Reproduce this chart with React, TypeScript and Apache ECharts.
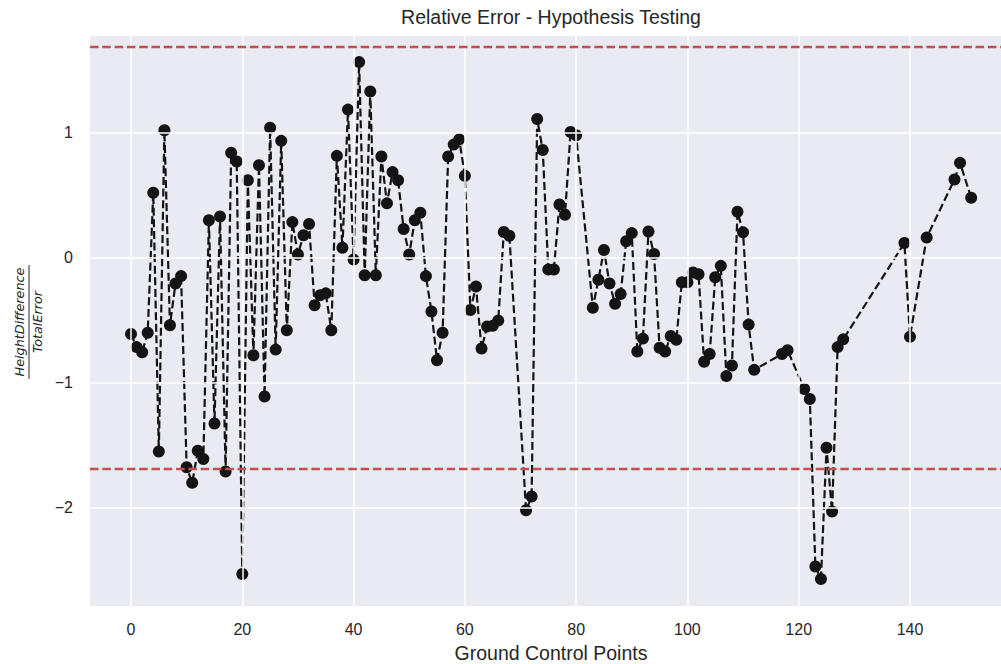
import React, { useEffect, useRef } from "react";
import * as echarts from "echarts";

// Ground control point indices (x) and their relative error values (y)
const pointIndex = [
  0, 1, 2, 3, 4, 5, 6, 7, 8, 9, 10, 11, 12, 13, 14, 15, 16, 17, 18, 19, 20,
  21, 22, 23, 24, 25, 26, 27, 28, 29, 30, 31, 32, 33, 34, 35, 36, 37, 38, 39,
  40, 41, 42, 43, 44, 45, 46, 47, 48, 49, 50, 51, 52, 53, 54, 55, 56, 57, 58,
  59, 60, 61, 62, 63, 64, 65, 66, 67, 68, 71, 72, 73, 74, 75, 76, 77, 78, 79,
  80, 83, 84, 85, 86, 87, 88, 89, 90, 91, 92, 93, 94, 95, 96, 97, 98, 99, 100,
  101, 102, 103, 104, 105, 106, 107, 108, 109, 110, 111, 112, 117, 118, 121,
  122, 123, 124, 125, 126, 127, 128, 139, 140, 143, 148, 149, 151,
];

const relError = [
  -0.61, -0.715, -0.756, -0.6, 0.52, -1.55, 1.02, -0.54, -0.206, -0.147,
  -1.676, -1.8, -1.544, -1.61, 0.3, -1.326, 0.33, -1.71, 0.84, 0.77, -2.53,
  0.62, -0.78, 0.74, -1.11, 1.04, -0.735, 0.935, -0.58, 0.285, 0.026, 0.18,
  0.27, -0.38, -0.3, -0.285, -0.58, 0.815, 0.08, 1.185, -0.015, 1.565, -0.14,
  1.33, -0.14, 0.81, 0.435, 0.685, 0.62, 0.23, 0.026, 0.3, 0.36, -0.147,
  -0.43, -0.82, -0.6, 0.81, 0.905, 0.947, 0.656, -0.418, -0.23, -0.726, -0.55,
  -0.545, -0.503, 0.206, 0.176, -2.02, -1.91, 1.11, 0.862, -0.094, -0.094,
  0.426, 0.344, 1.006, 0.98, -0.4, -0.176, 0.062, -0.206, -0.368, -0.29,
  0.132, 0.197, -0.75, -0.647, 0.21, 0.03, -0.72, -0.75, -0.626, -0.656,
  -0.197, -0.197, -0.118, -0.132, -0.832, -0.77, -0.156, -0.065, -0.947,
  -0.862, 0.368, 0.203, -0.535, -0.897, -0.77, -0.74, -1.05, -1.13, -2.47,
  -2.57, -1.52, -2.03, -0.715, -0.653, 0.118, -0.632, 0.162, 0.626, 0.759,
  0.48,
];

// Critical value of the test (drawn as upper and lower limits)
const criticalValue = 1.69;

const xTicks = [0, 20, 40, 60, 80, 100, 120, 140];
const yTicks = [-2, -1, 0, 1];

const TEXT_COLOR = "#262626";
const SANS = "'Liberation Sans', Arial, 'DejaVu Sans', sans-serif";
const MATH = "'DejaVu Sans', sans-serif";

const fmtTick = (v: number) => (v < 0 ? "\u2212" + Math.abs(v) : String(v));

export default function App() {
  const ref = useRef<HTMLDivElement>(null);

  useEffect(() => {
    if (!ref.current) return;
    const chart = echarts.init(ref.current, null, { renderer: "svg" });

    const points = pointIndex.map((x, i) => [x, relError[i]]);

    chart.setOption({
      animation: false,
      backgroundColor: "#ffffff",
      grid: {
        left: 90,
        right: 0,
        top: 36,
        bottom: 58,
        show: true,
        backgroundColor: "#eaeaf2",
        borderWidth: 0,
      },
      xAxis: {
        type: "value",
        min: -7.37,
        max: 156.36,
        axisLine: { show: false },
        axisTick: { show: false },
        splitLine: { show: false },
        axisLabel: {
          customValues: xTicks,
          formatter: fmtTick,
          fontSize: 16,
          color: TEXT_COLOR,
          fontFamily: SANS,
          margin: 15,
        },
      },
      yAxis: {
        type: "value",
        min: -2.786,
        max: 1.774,
        axisLine: { show: false },
        axisTick: { show: false },
        splitLine: { show: false },
        axisLabel: {
          customValues: yTicks,
          formatter: fmtTick,
          fontSize: 16,
          color: TEXT_COLOR,
          fontFamily: SANS,
          margin: 17,
        },
      },
      graphic: [
        {
          type: "text",
          x: 551,
          y: 17,
          style: {
            text: "Relative Error - Hypothesis Testing",
            fontSize: 19.5,
            fontFamily: SANS,
            fill: TEXT_COLOR,
            align: "center",
            verticalAlign: "middle",
          },
        },
        {
          type: "text",
          x: 551,
          y: 653,
          style: {
            text: "Ground Control Points",
            fontSize: 19.5,
            fontFamily: SANS,
            fill: TEXT_COLOR,
            align: "center",
            verticalAlign: "middle",
          },
        },
        {
          // y-axis label: HeightDifference / TotalError as a fraction
          type: "group",
          x: 29,
          y: 322,
          rotation: Math.PI / 2,
          children: [
            {
              type: "text",
              x: 0,
              y: -3,
              style: {
                text: "HeightDifference",
                fontSize: 12.8,
                fontStyle: "italic",
                fontFamily: MATH,
                fill: TEXT_COLOR,
                align: "center",
                verticalAlign: "bottom",
              },
            },
            {
              type: "line",
              shape: { x1: -57, y1: 0, x2: 57, y2: 0 },
              style: { stroke: TEXT_COLOR, lineWidth: 1 },
            },
            {
              type: "text",
              x: 0,
              y: 2,
              style: {
                text: "TotalError",
                fontSize: 12.8,
                fontStyle: "italic",
                fontFamily: MATH,
                fill: TEXT_COLOR,
                align: "center",
                verticalAlign: "top",
              },
            },
          ],
        },
      ],
      series: [
        {
          // white grid lines behind the data
          type: "line",
          data: [[0, 0]],
          showSymbol: false,
          symbolSize: 0,
          lineStyle: { opacity: 0 },
          silent: true,
          z: 1,
          markLine: {
            silent: true,
            symbol: ["none", "none"],
            label: { show: false },
            lineStyle: { color: "#ffffff", width: 1.5, type: "solid" },
            data: [
              ...xTicks.map((v) => ({ xAxis: v })),
              ...yTicks.map((v) => ({ yAxis: v })),
            ],
          },
        },
        {
          type: "line",
          data: points,
          symbol: "circle",
          symbolSize: 12,
          showAllSymbol: true,
          itemStyle: { color: "#141414" },
          lineStyle: { color: "#141414", width: 2.2, type: [8, 3.6] },
          z: 3,
        },
        {
          // upper and lower critical limits
          type: "line",
          data: [[0, 0]],
          showSymbol: false,
          symbolSize: 0,
          lineStyle: { opacity: 0 },
          silent: true,
          z: 4,
          markLine: {
            silent: true,
            symbol: ["none", "none"],
            label: { show: false },
            lineStyle: { color: "#c44e52", width: 2.3, type: [8.5, 3.8] },
            data: [{ yAxis: criticalValue }, { yAxis: -criticalValue }],
          },
        },
      ],
    });

    return () => chart.dispose();
  }, []);

  return (
    <div
      ref={ref}
      style={{ position: "fixed", left: 0, top: 0, width: 1001, height: 664 }}
    />
  );
}
